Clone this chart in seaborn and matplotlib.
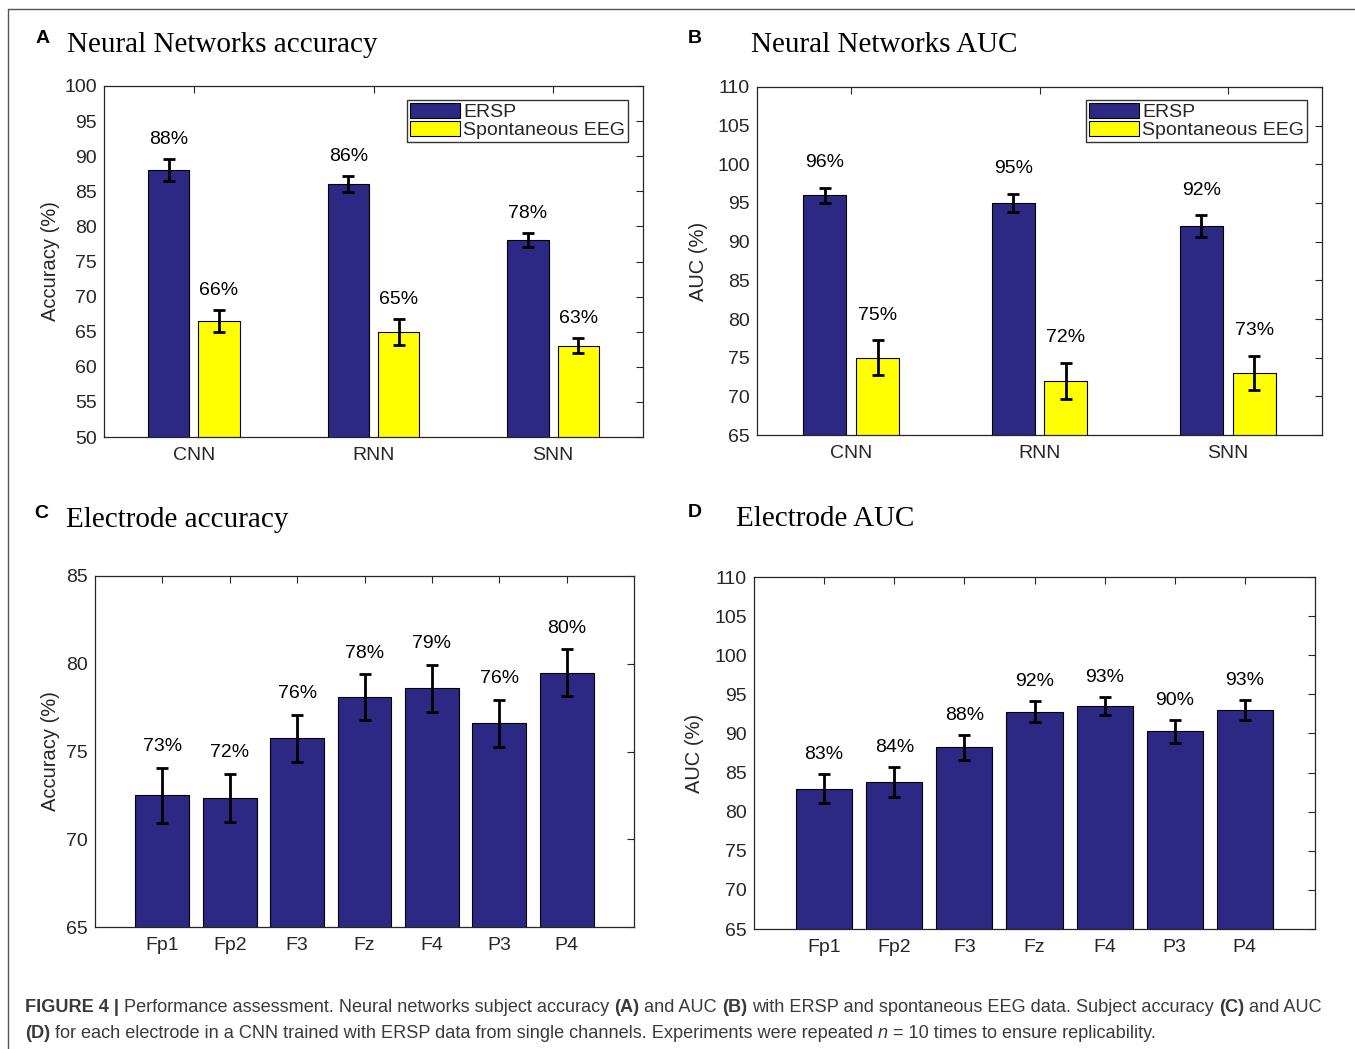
import numpy as np
import pandas as pd
import matplotlib
matplotlib.use("Agg")
import matplotlib.pyplot as plt
import seaborn as sns
from matplotlib.lines import Line2D

# ---------------- data ----------------
models = ["CNN", "RNN", "SNN"]
conditions = ["ERSP", "Spontaneous EEG"]

acc_ersp = [88.0, 86.0, 78.0]
acc_ersp_err = [1.6, 1.15, 1.0]
acc_spont = [66.5, 65.0, 63.0]
acc_spont_err = [1.57, 1.83, 1.1]
acc_ersp_labels = ["88%", "86%", "78%"]
acc_spont_labels = ["66%", "65%", "63%"]

auc_ersp = [96.0, 95.0, 92.0]
auc_ersp_err = [1.0, 1.15, 1.4]
auc_spont = [75.0, 72.0, 73.0]
auc_spont_err = [2.24, 2.35, 2.24]
auc_ersp_labels = ["96%", "95%", "92%"]
auc_spont_labels = ["75%", "72%", "73%"]

electrodes = ["Fp1", "Fp2", "F3", "Fz", "F4", "P3", "P4"]
elec_acc = [72.5, 72.35, 75.75, 78.1, 78.6, 76.6, 79.5]
elec_acc_err = [1.57, 1.37, 1.34, 1.3, 1.33, 1.35, 1.34]
elec_acc_labels = ["73%", "72%", "76%", "78%", "79%", "76%", "80%"]
elec_auc = [82.95, 83.75, 88.25, 92.8, 93.5, 90.25, 93.0]
elec_auc_err = [1.9, 1.9, 1.6, 1.3, 1.2, 1.5, 1.26]
elec_auc_labels = ["83%", "84%", "88%", "92%", "93%", "90%", "93%"]

# ---------------- style ----------------
sns.set_style("white")
plt.rcParams["font.family"] = ["Liberation Sans", "DejaVu Sans"]

NAVY = "#2c2884"
YELLOW = "#ffff00"
AX_COL = "#262626"
FS = 14
W, H = 1355, 1049
fig = plt.figure(figsize=(W / 100, H / 100), dpi=100)


def px_axes(l, t, r, b):
    return fig.add_axes([l / W, 1 - b / H, (r - l) / W, (b - t) / H])


def style_axes(ax, ylim, ystep, ylabel, ylab_x):
    ax.set_ylim(*ylim)
    ax.set_yticks(np.arange(ylim[0], ylim[1] + 0.1, ystep))
    ax.tick_params(direction="in", length=5, width=0.8, top=True, right=True,
                   labelsize=FS, colors=AX_COL)
    ax.tick_params(axis="y", pad=5)
    ax.tick_params(axis="x", pad=7)
    for sp in ax.spines.values():
        sp.set_visible(True)
        sp.set_linewidth(0.9)
        sp.set_color(AX_COL)
    ax.set_xlabel("")
    ax.set_ylabel(ylabel, fontsize=14.5, color=AX_COL)
    ax.yaxis.set_label_coords(ylab_x, 0.5)
    ax.yaxis.label.set_va("center")


def add_err_labels(ax, container, errs, labels, off):
    for bar, e, lab in zip(container, errs, labels):
        x = bar.get_x() + bar.get_width() / 2
        h = bar.get_height()
        ax.errorbar(x, h, yerr=e, fmt="none", ecolor="black", elinewidth=2,
                    capsize=4, capthick=2, zorder=5)
        ax.annotate(lab, (x, h + e), xytext=(0, off), textcoords="offset points",
                    ha="center", va="bottom", fontsize=FS, color="black")


def grouped(ax, ersp, ersp_err, spont, spont_err, lab_e, lab_s, off):
    df = pd.DataFrame({
        "Model": models * 2,
        "Condition": [conditions[0]] * len(models) + [conditions[1]] * len(models),
        "Value": list(ersp) + list(spont),
    })
    sns.barplot(data=df, x="Model", y="Value", hue="Condition", hue_order=conditions,
                palette=[NAVY, YELLOW], saturation=1, width=0.56, gap=0.18,
                errorbar=None, edgecolor="black", linewidth=0.8, ax=ax)
    ax.set_xlim(-0.5, len(models) - 0.5)
    add_err_labels(ax, ax.containers[0], ersp_err, lab_e, off)
    add_err_labels(ax, ax.containers[1], spont_err, lab_s, off)
    old = ax.get_legend()
    handles = old.legend_handles
    labels = [t.get_text() for t in old.get_texts()]
    old.remove()
    return handles, labels


def place_legend(ax, handles, labels, anchor):
    leg = ax.legend(handles, labels, loc="upper right", bbox_to_anchor=anchor,
                    frameon=True, fancybox=False, framealpha=1, edgecolor="#333333",
                    fontsize=FS, borderpad=0.15, labelspacing=0.0, handlelength=2.6,
                    handleheight=0.8, handletextpad=0.15, borderaxespad=0)
    leg.get_frame().set_linewidth(1.0)
    for h in leg.legend_handles:
        h.set_edgecolor("black")
        h.set_linewidth(0.8)


def single(ax, vals, errs, labs, off):
    df = pd.DataFrame({"Electrode": electrodes, "Value": vals})
    sns.barplot(data=df, x="Electrode", y="Value", color=NAVY, saturation=1,
                width=0.8, errorbar=None, edgecolor="black", linewidth=0.8, ax=ax)
    ax.set_xlim(-1, len(electrodes))
    add_err_labels(ax, ax.containers[0], errs, labs, off)


# Panel A
axA = px_axes(104, 86, 643, 437)
h, l = grouped(axA, acc_ersp, acc_ersp_err, acc_spont, acc_spont_err,
               acc_ersp_labels, acc_spont_labels, 8)
style_axes(axA, (50, 100), 5, "Accuracy (%)", (51 - 104) / 539)
place_legend(axA, h, l, (1 - 15 / 539, 1 - 14 / 351))

# Panel B
axB = px_axes(757, 87, 1322, 435)
h, l = grouped(axB, auc_ersp, auc_ersp_err, auc_spont, auc_spont_err,
               auc_ersp_labels, auc_spont_labels, 12)
style_axes(axB, (65, 110), 5, "AUC (%)", (699 - 757) / 565)
place_legend(axB, h, l, (1 - 15 / 565, 1 - 13 / 348))

# Panel C
axC = px_axes(95, 576, 634, 927)
single(axC, elec_acc, elec_acc_err, elec_acc_labels, 9)
style_axes(axC, (65, 85), 5, "Accuracy (%)", (51 - 95) / 539)

# Panel D
axD = px_axes(754, 577, 1315, 929)
single(axD, elec_auc, elec_auc_err, elec_auc_labels, 8)
style_axes(axD, (65, 110), 5, "AUC (%)", (695 - 754) / 561)

# Panel letters and titles
for letter, lx, tx, title, base in [
    ("A", 36, 67, "Neural Networks accuracy", 52),
    ("B", 688, 751, "Neural Networks AUC", 52),
    ("C", 34, 66, "Electrode accuracy", 527),
    ("D", 688, 736, "Electrode AUC", 526),
]:
    fig.text(lx / W, 1 - (base - 9) / H, letter, fontsize=14, fontweight="bold",
             ha="left", va="baseline", color="black")
    fig.text(tx / W, 1 - base / H, title, fontsize=21, family="Liberation Serif",
             ha="left", va="baseline", color="black")

# Outer border (left and top)
fig.add_artist(Line2D([8 / W, 8 / W], [0, 1 - 9 / H], transform=fig.transFigure,
                      color="#555555", lw=1))
fig.add_artist(Line2D([8 / W, 1], [1 - 9 / H, 1 - 9 / H], transform=fig.transFigure,
                      color="#555555", lw=1))

# Caption
CAP = "#3a3a3a"
line1 = [("FIGURE 4 |", "bold", "normal"),
         ("Performance assessment. Neural networks subject accuracy", "normal", "normal"),
         ("(A)", "bold", "normal"), ("and AUC", "normal", "normal"),
         ("(B)", "bold", "normal"),
         ("with ERSP and spontaneous EEG data. Subject accuracy", "normal", "normal"),
         ("(C)", "bold", "normal"), ("and AUC", "normal", "normal")]
line2 = [("(D)", "bold", "normal"),
         ("for each electrode in a CNN trained with ERSP data from single channels. Experiments were repeated", "normal", "normal"),
         ("n", "normal", "italic"),
         ("= 10 times to ensure replicability.", "normal", "normal")]

renderer = fig.canvas.get_renderer()


def width_of(s, size, weight="normal", style="normal"):
    t = fig.text(0, 0, s, fontsize=size, fontweight=weight, fontstyle=style)
    w = t.get_window_extent(renderer=renderer).width
    t.remove()
    return w


def draw_line(pieces, ybase, size, draw=True):
    sp = width_of("x x", size) - width_of("xx", size)
    x = 25
    for i, (s, wgt, sty) in enumerate(pieces):
        if i > 0:
            x += sp
        t = fig.text(x / W, 1 - ybase / H, s, fontsize=size, fontweight=wgt,
                     fontstyle=sty, color=CAP, ha="left", va="baseline")
        x += t.get_window_extent(renderer=renderer).width
        if not draw:
            t.remove()
    return x


base_size = 12
end = draw_line(line1, 1012, base_size, draw=False)
size = base_size * (1323 - 25) / (end - 25)
draw_line(line1, 1012, size)
draw_line(line2, 1038, size)

fig.savefig("out.png", dpi=100)
